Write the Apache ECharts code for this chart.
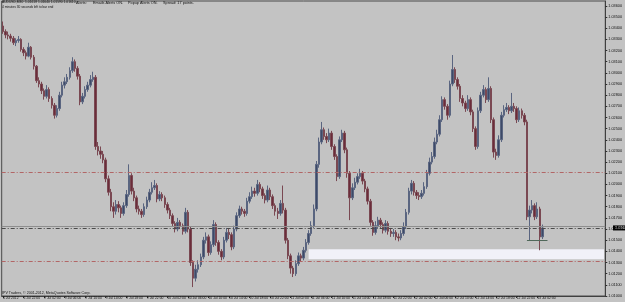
<!DOCTYPE html>
<html><head><meta charset="utf-8">
<script src="https://cdn.jsdelivr.net/npm/echarts@6/dist/echarts.min.js"></script>
<style>html,body{margin:0;padding:0;background:#c3c3c3;overflow:hidden}#c{width:625px;height:302px}</style>
</head><body><div id="c"></div><script>
// ---- data (AUDUSD, M30 candles) ----
const opens = [
1.0342,1.0337,1.0334,1.0333,1.0331,1.0327,1.0329,1.0330,1.0321,1.0318,
1.0315,1.0323,1.0314,1.0306,1.0293,1.0290,1.0284,1.0279,1.0285,1.0277,
1.0271,1.0262,1.0268,1.0280,1.0289,1.0292,1.0296,1.0302,1.0310,1.0304,
1.0297,1.0274,1.0279,1.0285,1.0289,1.0294,1.0296,1.0234,1.0230,1.0227,
1.0222,1.0205,1.0193,1.0180,1.0176,1.0182,1.0179,1.0174,1.0181,1.0191,
1.0208,1.0194,1.0188,1.0178,1.0176,1.0173,1.0180,1.0186,1.0193,1.0197,
1.0199,1.0187,1.0191,1.0188,1.0182,1.0177,1.0172,1.0165,1.0160,1.0166,
1.0163,1.0158,1.0175,1.0160,1.0130,1.0116,1.0124,1.0128,1.0135,1.0150,
1.0153,1.0139,1.0146,1.0164,1.0148,1.0140,1.0135,1.0150,1.0157,1.0155,
1.0144,1.0160,1.0172,1.0178,1.0176,1.0174,1.0185,1.0189,1.0194,1.0192,
1.0200,1.0196,1.0190,1.0186,1.0195,1.0189,1.0181,1.0176,1.0174,1.0183,
1.0177,1.0150,1.0136,1.0125,1.0120,1.0129,1.0136,1.0134,1.0141,1.0148,
1.0156,1.0163,1.0178,1.0218,1.0238,1.0249,1.0243,1.0240,1.0246,1.0234,
1.0225,1.0207,1.0240,1.0246,1.0231,1.0210,1.0188,1.0197,1.0202,1.0207,
1.0210,1.0203,1.0196,1.0185,1.0166,1.0157,1.0163,1.0168,1.0164,1.0159,
1.0165,1.0158,1.0156,1.0157,1.0153,1.0152,1.0156,1.0162,1.0175,1.0194,
1.0201,1.0193,1.0190,1.0189,1.0192,1.0198,1.0210,1.0220,1.0225,1.0238,
1.0245,1.0258,1.0276,1.0270,1.0262,1.0290,1.0303,1.0294,1.0288,1.0277,
1.0273,1.0268,1.0276,1.0265,1.0250,1.0234,1.0266,1.0280,1.0285,1.0276,
1.0286,1.0258,1.0229,1.0226,1.0240,1.0262,1.0267,1.0269,1.0266,1.0270,
1.0268,1.0258,1.0266,1.0262,1.0256,1.0171,1.0177,1.0181,1.0171,1.0178,
1.0153];
const closes = [
1.0337,1.0334,1.0333,1.0331,1.0327,1.0329,1.0330,1.0321,1.0318,1.0315,
1.0323,1.0314,1.0306,1.0293,1.0290,1.0284,1.0279,1.0285,1.0277,1.0271,
1.0262,1.0268,1.0280,1.0289,1.0292,1.0296,1.0302,1.0310,1.0304,1.0297,
1.0274,1.0279,1.0285,1.0289,1.0294,1.0296,1.0234,1.0230,1.0227,1.0222,
1.0205,1.0193,1.0180,1.0176,1.0182,1.0179,1.0174,1.0181,1.0191,1.0208,
1.0194,1.0188,1.0178,1.0176,1.0173,1.0180,1.0186,1.0193,1.0197,1.0199,
1.0187,1.0191,1.0188,1.0182,1.0177,1.0172,1.0165,1.0160,1.0166,1.0163,
1.0158,1.0175,1.0160,1.0130,1.0116,1.0124,1.0128,1.0135,1.0150,1.0153,
1.0139,1.0146,1.0164,1.0148,1.0140,1.0135,1.0150,1.0157,1.0155,1.0144,
1.0160,1.0172,1.0178,1.0176,1.0174,1.0185,1.0189,1.0194,1.0192,1.0200,
1.0196,1.0190,1.0186,1.0195,1.0189,1.0181,1.0176,1.0174,1.0183,1.0177,
1.0150,1.0136,1.0125,1.0120,1.0129,1.0136,1.0134,1.0141,1.0148,1.0156,
1.0163,1.0178,1.0218,1.0238,1.0249,1.0243,1.0240,1.0246,1.0234,1.0225,
1.0207,1.0240,1.0246,1.0231,1.0210,1.0188,1.0197,1.0202,1.0207,1.0210,
1.0203,1.0196,1.0185,1.0166,1.0157,1.0163,1.0168,1.0164,1.0159,1.0165,
1.0158,1.0156,1.0157,1.0153,1.0152,1.0156,1.0162,1.0175,1.0194,1.0201,
1.0193,1.0190,1.0189,1.0192,1.0198,1.0210,1.0220,1.0225,1.0238,1.0245,
1.0258,1.0276,1.0270,1.0262,1.0290,1.0303,1.0294,1.0288,1.0277,1.0273,
1.0268,1.0276,1.0265,1.0250,1.0234,1.0266,1.0280,1.0285,1.0276,1.0286,
1.0258,1.0229,1.0226,1.0240,1.0262,1.0267,1.0269,1.0266,1.0270,1.0268,
1.0258,1.0266,1.0262,1.0256,1.0171,1.0177,1.0181,1.0171,1.0178,1.0153,
1.0161];
const highs = [
1.0346,1.0339,1.0337,1.0335,1.0333,1.0331,1.0333,1.0331,1.0323,1.0320,
1.0327,1.0324,1.0316,1.0307,1.0296,1.0292,1.0286,1.0289,1.0287,1.0279,
1.0273,1.0271,1.0283,1.0292,1.0296,1.0299,1.0305,1.0314,1.0312,1.0306,
1.0299,1.0282,1.0288,1.0292,1.0298,1.0301,1.0298,1.0238,1.0234,1.0230,
1.0224,1.0208,1.0196,1.0184,1.0186,1.0185,1.0181,1.0184,1.0195,1.0218,
1.0210,1.0197,1.0190,1.0181,1.0178,1.0183,1.0189,1.0196,1.0202,1.0204,
1.0201,1.0194,1.0193,1.0190,1.0184,1.0179,1.0174,1.0167,1.0170,1.0168,
1.0165,1.0179,1.0177,1.0162,1.0132,1.0128,1.0132,1.0138,1.0153,1.0157,
1.0155,1.0149,1.0168,1.0166,1.0150,1.0142,1.0153,1.0161,1.0160,1.0157,
1.0163,1.0175,1.0181,1.0180,1.0178,1.0188,1.0193,1.0198,1.0197,1.0204,
1.0202,1.0198,1.0192,1.0199,1.0197,1.0191,1.0183,1.0179,1.0186,1.0199,
1.0179,1.0152,1.0138,1.0127,1.0132,1.0139,1.0138,1.0144,1.0151,1.0159,
1.0167,1.0182,1.0221,1.0242,1.0256,1.0251,1.0246,1.0250,1.0248,1.0236,
1.0227,1.0243,1.0249,1.0248,1.0233,1.0212,1.0201,1.0206,1.0210,1.0214,
1.0212,1.0205,1.0198,1.0187,1.0168,1.0167,1.0171,1.0170,1.0166,1.0168,
1.0167,1.0161,1.0160,1.0159,1.0156,1.0159,1.0166,1.0178,1.0197,1.0204,
1.0203,1.0195,1.0193,1.0195,1.0202,1.0213,1.0224,1.0229,1.0242,1.0249,
1.0262,1.0279,1.0278,1.0272,1.0293,1.0316,1.0305,1.0296,1.0290,1.0280,
1.0275,1.0280,1.0278,1.0267,1.0252,1.0269,1.0283,1.0289,1.0287,1.0296,
1.0288,1.0260,1.0232,1.0244,1.0265,1.0271,1.0273,1.0271,1.0282,1.0273,
1.0270,1.0269,1.0268,1.0264,1.0258,1.0181,1.0186,1.0183,1.0184,1.0180,
1.0164];
const lows = [
1.0335,1.0331,1.0330,1.0328,1.0325,1.0324,1.0327,1.0319,1.0315,1.0312,
1.0314,1.0312,1.0303,1.0291,1.0287,1.0281,1.0276,1.0277,1.0274,1.0268,
1.0259,1.0260,1.0266,1.0278,1.0286,1.0290,1.0294,1.0300,1.0301,1.0294,
1.0271,1.0272,1.0277,1.0283,1.0287,1.0292,1.0231,1.0226,1.0223,1.0219,
1.0202,1.0190,1.0176,1.0170,1.0173,1.0175,1.0170,1.0172,1.0179,1.0189,
1.0191,1.0185,1.0175,1.0173,1.0170,1.0171,1.0178,1.0184,1.0191,1.0195,
1.0184,1.0185,1.0185,1.0179,1.0174,1.0169,1.0162,1.0157,1.0158,1.0160,
1.0155,1.0156,1.0157,1.0127,1.0108,1.0113,1.0121,1.0126,1.0133,1.0147,
1.0136,1.0137,1.0144,1.0145,1.0137,1.0132,1.0133,1.0148,1.0151,1.0141,
1.0142,1.0158,1.0170,1.0173,1.0171,1.0172,1.0183,1.0187,1.0189,1.0190,
1.0193,1.0187,1.0183,1.0184,1.0186,1.0178,1.0172,1.0169,1.0172,1.0174,
1.0147,1.0133,1.0120,1.0117,1.0118,1.0127,1.0131,1.0132,1.0139,1.0146,
1.0154,1.0161,1.0176,1.0215,1.0236,1.0240,1.0237,1.0238,1.0231,1.0222,
1.0203,1.0205,1.0238,1.0228,1.0206,1.0168,1.0186,1.0195,1.0200,1.0205,
1.0200,1.0193,1.0182,1.0163,1.0154,1.0155,1.0161,1.0161,1.0156,1.0157,
1.0155,1.0153,1.0153,1.0150,1.0149,1.0150,1.0154,1.0160,1.0173,1.0191,
1.0190,1.0187,1.0186,1.0187,1.0190,1.0196,1.0208,1.0218,1.0223,1.0236,
1.0243,1.0256,1.0267,1.0258,1.0260,1.0288,1.0291,1.0285,1.0274,1.0270,
1.0265,1.0266,1.0262,1.0247,1.0231,1.0232,1.0264,1.0278,1.0273,1.0274,
1.0255,1.0224,1.0222,1.0224,1.0238,1.0260,1.0265,1.0263,1.0264,1.0265,
1.0255,1.0256,1.0259,1.0253,1.0168,1.0150,1.0174,1.0168,1.0169,1.0141,
1.0151];
const tickLabels = ['6 Jul 2012','6 Jul 22:00','9 Jul 02:00','9 Jul 06:00','9 Jul 10:00','9 Jul 14:00',
'9 Jul 18:00','9 Jul 22:00','10 Jul 02:00','10 Jul 06:00','10 Jul 10:00','10 Jul 14:00','10 Jul 18:00',
'10 Jul 22:00','11 Jul 02:00','11 Jul 06:00','11 Jul 10:00','11 Jul 14:00','11 Jul 18:00','11 Jul 22:00',
'12 Jul 02:00','12 Jul 06:00','12 Jul 10:00','12 Jul 14:00','12 Jul 18:00','12 Jul 22:00','13 Jul 02:00'];
const barsPerLabel = 8;
const totalSlots = 235;
const yMin = 1.0100, yMax = 1.03644, yStep = 0.0010;
const bid = 1.01610, ask = 1.01627;
const levelLines = [1.0211, 1.0131];
const zone = {from: 119, low: 1.0133, high: 1.0142};
const segment = {price: 1.0150, from: 204, to: 212};
const headerTexts = ['AUDUSD,M30  1.01618 1.01640 1.01590 1.01610','Alerts:','Emails Alerts ON.','Popup Alerts ON.','Spread: 17 points.'];
const timerText = '4 minutes 30 seconds left to bar end';
const footerText = 'IPV Traders, \u00a9 2001-2012, MetaQuotes Software Corp.';

// ---- chart ----
const slots = [];
for (let i = 0; i < totalSlots; i++) slots.push(String(i));
const candles = opens.map((o, i) => [o, closes[i], lows[i], highs[i]]);
const FONT = 'Liberation Sans Narrow, Liberation Sans, DejaVu Sans, sans-serif';
const dashDot = [4, 2, 1, 2];
const chart = echarts.init(document.getElementById('c'), null, {renderer: 'canvas'});
const labelShown = i => i % barsPerLabel === 0 && i / barsPerLabel < tickLabels.length;

chart.setOption({
  animation: false,
  backgroundColor: '#c3c3c3',
  grid: {left: 1, right: 13, top: 1, bottom: 6, show: true, borderColor: '#4a4a4a', borderWidth: 1, backgroundColor: 'transparent'},
  xAxis: {
    type: 'category', data: slots, boundaryGap: true,
    axisLine: {show: true, onZero: false, lineStyle: {color: '#404040', width: 1}},
    axisTick: {show: true, interval: (i) => labelShown(i), length: 2, alignWithLabel: true, lineStyle: {color: '#303030'}},
    axisLabel: {show: true, interval: (i) => labelShown(i), formatter: (v, i) => tickLabels[i / barsPerLabel] || '',
      align: 'left', margin: 1, fontSize: 3.4, fontFamily: FONT, color: '#111', hideOverlap: false},
    splitLine: {show: false}
  },
  yAxis: {
    type: 'value', position: 'right', min: yMin, max: yMax, interval: yStep,
    axisLine: {show: true, lineStyle: {color: '#404040'}},
    axisTick: {show: true, length: 2, lineStyle: {color: '#303030'}},
    axisLabel: {show: true, margin: 3, fontSize: 3.8, fontFamily: FONT, color: '#111', formatter: v => v.toFixed(5), showMaxLabel: false},
    splitLine: {show: false}
  },
  series: [{
    type: 'candlestick', data: candles, barWidth: 2, clip: false,
    itemStyle: {color: '#3d4a68', color0: '#6b2c3a', borderColor: '#5a6580', borderColor0: '#7a4852', borderWidth: 1},
    markArea: {silent: true, precision: 5, itemStyle: {color: '#f1f1f8'},
      data: [[{coord: [String(zone.from), zone.high]}, {coord: [String(totalSlots - 1), zone.low]}]]},
    markLine: {silent: true, symbol: 'none', precision: 5, label: {show: false}, animation: false,
      data: [
        {yAxis: levelLines[0], lineStyle: {color: '#b26666', type: dashDot, width: 1}},
        {yAxis: levelLines[1], lineStyle: {color: '#b26666', type: dashDot, width: 1}},
        {yAxis: ask, lineStyle: {color: '#8e8e8e', type: 'solid', width: 1}},
        {yAxis: bid, lineStyle: {color: '#4a4a4a', type: dashDot, width: 1}},
        [{coord: [String(segment.from), segment.price], lineStyle: {color: '#50685a', type: 'solid', width: 1}},
         {coord: [String(segment.to), segment.price]}]
      ]}
  }]
});

const pos = chart.convertToPixel({gridIndex: 0}, ['0', bid]);
const headerX = [2, 76, 93, 128, 163];
const headerSize = [3.3, 3.8, 3.8, 3.8, 3.8];
const g = headerTexts.map((t, k) => ({type: 'text', x: headerX[k], y: 1, style: {text: t, fill: '#111', fontSize: headerSize[k], fontFamily: FONT}}));
g.push({type: 'text', x: 2, y: 5.5, style: {text: timerText, fill: '#111', fontSize: 3.2, fontFamily: FONT}});
g.push({type: 'text', x: 2, y: 291, style: {text: footerText, fill: '#111', fontSize: 3.6, fontFamily: FONT}});
g.push({type: 'rect', x: 613, y: pos[1] - 2.5, shape: {width: 12, height: 5}, style: {fill: '#000'}});
g.push({type: 'text', x: 615, y: pos[1] - 2, style: {text: bid.toFixed(5), fill: '#fff', fontSize: 3.8, fontFamily: FONT}});
chart.setOption({graphic: g});
</script></body></html>
